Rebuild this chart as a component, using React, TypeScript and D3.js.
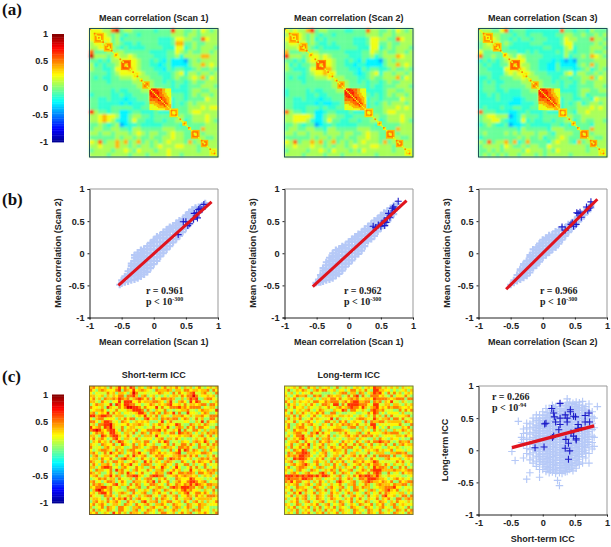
// App.tsx
import React, { useEffect, useRef } from "react";
import * as d3 from "d3";

// one character per cell: index into the levels below
const corrLevels = [-0.4, -0.27, -0.16, -0.05, 0.08, 0.22, 0.4, 0.55, 0.7, 0.85];
const iccLevels = [-0.4, -0.25, -0.12, 0.05, 0.17, 0.27, 0.37, 0.5, 0.65, 0.8];
const colorbarTicks = [-1, -0.5, 0, 0.5, 1];
const axisTicks = [-1, -0.5, 0, 0.5, 1];

// lower triangles of the mean correlation matrices (30 coarse rows)
const corrScan1 = [
  "5", "55", "555", "4554", "44555", "733343", "9444345", "33232445", "423233455", "4332235556",
  "33332345555", "323223344454", "3333233333444", "33333333333444", "333332322333445",
  "2333322322333355", "33223222122333556", "332222212122233566", "3322233333223334566",
  "84332331123322232222", "445655411344332333333", "4456542113533223323344",
  "33432340122322222333323", "344334433244333334443333", "4434434443454344334544333",
  "33333343443433433445443344", "547344646346343434544436344", "44544464434344345444554443443",
  "34444344543544434454444443444", "444434444344434444544344444444",
];
const corrScan2 = [
  "5", "45", "555", "4554", "44455", "633343", "8444345", "33232455", "423233445", "4322235556",
  "33332345565", "323223344454", "3333233333344", "33333333333444", "233332322333445",
  "2333322322333345", "33223222122333456", "332222212112233566", "3322233323223334566",
  "74332331123322232222", "445555411344332233333", "4455542113533223323344",
  "33432330122322222333323", "344334433244333334443333", "4434434443444344334544333",
  "33333343443433433445443344", "547344646346343434544436344", "44544454434344345444554443443",
  "34444344543544434354444443444", "444434444344434444444344444444",
];
const corrScan3 = [
  "4", "45", "445", "3454", "34455", "533333", "7334335", "23232345", "323223355", "3322225556",
  "33322245455", "223223334454", "2323223333444", "23332333333444", "233322322233445",
  "2232322222333355", "22223222112333556", "222222211122233566", "2322232233223334566",
  "73332221122322232222", "345544401243332333333", "3445532112523223323344",
  "23432230112322222332323", "333333333243333324443333", "3433334343444344324444333",
  "23333333343433423345433344", "437344636236333324544326344", "34444354334344335444444443433",
  "33434344443544434354444443444", "343434344344434344444344444444",
];

// the large central module of the correlation maps (same levels, lower triangle)
const centralModule = [
  "5", "85", "885", "8885", "88885", "788885", "7788885", "77777785", "777777885", "6666777775",
  "66666677785", "555666677785", "5555566666775", "55555566666665", "555555555556665",
];
const centralStart = 42;

// other diagonal modules on the 90 x 90 grid: start, size, peak
const corrModules = [
  [3, 7, 0.48], [10, 6, 0.48], [17, 3, 0.42], [22, 7, 0.6], [31, 3, 0.42], [35, 2, 0.42],
  [37, 5, 0.5], [56, 6, 0.45], [65, 3, 0.45], [69, 2, 0.42], [71, 6, 0.52],
  [78, 5, 0.52], [84, 5, 0.32],
];

// lower triangles of the ICC matrices (45 coarse rows)
const shortTermIcc = [
  "6", "75", "535", "6645", "57463", "664375", "3576645", "75546386", "456675354", "6735658475",
  "88678877466", "536774555364", "7753688745376", "46377889654557", "856748796447356",
  "7898657885374665", "35767548865366473", "664387578864575346", "5746753478536645735",
  "36575647368754356647", "654376557348654736575", "7445367546653347765346",
  "53467765374636775435677", "675347486576354768543765", "3674566457335748656734576",
  "56637557436786653475463577", "764573647756345764385746536", "4753667536475684536776345674",
  "66357887453675447563367548653", "537664573867453675447536674357",
  "7646335743674865357443576637854", "56743668576347788653478877345675",
  "345767466375446375367743657433765", "6745357763575337664576837457346755",
  "47676345784653747635477645375476576", "657788674563375467337546764378768887",
  "3689756745443677354653765376456578675", "56478857346764375467336574537436578457",
  "754437675364467536467745367446735576475", "4665347375768473675546374765357446673566",
  "36756475675337564378466736577456375367463", "574675346643765375467436675347654376457664",
  "6345737653775436675346754475367635764376453", "47365476437754367354765376345763546376745536",
  "657346538574637665376453477546357467346575347",
];
const longTermIcc = [
  "5", "47", "536", "6435", "46573", "753646", "4756354", "36475563", "745356467", "5373647546",
  "66473754357", "374657345746", "6547354675354", "47336574675436", "573467754364755",
  "6437566743657346", "35467745376847553", "463577846753645736", "7346578653473667434",
  "35667437546375676453", "457346758364573645375", "6374574673547635764576",
  "45376587346537645766473", "376477887453567345654736", "5767688775346573466374567",
  "64387887534657346737456346", "567346754367546374657354765", "3467567864573466375367345674",
  "57346776453676345746365473563", "645367543765346576375467345764",
  "5367534675447863573476534765474", "88878787887868875467346475878876",
  "787776887746635456374576347768887", "7685774563647536437865467346787665",
  "46567346753674536457436673547634676", "653476654376453675467353764766345667",
  "4573656745376473653746537745367635678", "63475836457365437564357635437635474765",
  "457364673547653674537436754637456378556", "6345746735476534765436573574365473657437",
  "34657346735467354637645736547634576536475", "653476354657346735467346537645736573467356",
  "4657346573647356473654376543765346754376453", "53647346537463746537645376453764573465376474",
  "465373657436573645736543756347653764537645376",
];

// scatter clouds, each row is one x followed by the y values read at that x
const cloudScan1Scan2 = [
  [-0.53, -0.49], [-0.5, -0.47, -0.42], [-0.45, -0.45, -0.4, -0.36], [-0.4, -0.44, -0.38, -0.33, -0.28],
  [-0.35, -0.42, -0.36, -0.31, -0.25, -0.2, -0.16], [-0.3, -0.41, -0.35, -0.3, -0.24, -0.18, -0.12, -0.07, -0.03],
  [-0.25, -0.39, -0.33, -0.28, -0.22, -0.16, -0.1, -0.04, 0.01], [-0.2, -0.36, -0.3, -0.25, -0.19, -0.13, -0.07, -0.01, 0.05],
  [-0.15, -0.33, -0.27, -0.22, -0.16, -0.1, -0.04, 0.02, 0.07], [-0.1, -0.29, -0.23, -0.18, -0.12, -0.06, 0, 0.06, 0.11],
  [-0.05, -0.23, -0.18, -0.12, -0.06, 0, 0.06, 0.12, 0.16], [0, -0.17, -0.12, -0.06, 0, 0.06, 0.12, 0.18, 0.21],
  [0.05, -0.12, -0.07, -0.01, 0.05, 0.11, 0.17, 0.23, 0.26], [0.1, -0.05, 0, 0.06, 0.12, 0.18, 0.24, 0.28],
  [0.15, 0, 0.05, 0.11, 0.17, 0.23, 0.29, 0.33], [0.2, 0.06, 0.11, 0.17, 0.23, 0.29, 0.33, 0.37],
  [0.25, 0.11, 0.16, 0.22, 0.28, 0.34, 0.38, 0.41], [0.3, 0.17, 0.22, 0.28, 0.34, 0.39, 0.43],
  [0.35, 0.22, 0.27, 0.33, 0.39, 0.43, 0.47], [0.4, 0.27, 0.32, 0.38, 0.44, 0.48, 0.51],
  [0.45, 0.33, 0.38, 0.44, 0.5, 0.53], [0.5, 0.39, 0.44, 0.5, 0.55, 0.59], [0.55, 0.46, 0.51, 0.57, 0.61, 0.64],
  [0.6, 0.53, 0.58, 0.63, 0.68], [0.65, 0.58, 0.63, 0.68, 0.71], [0.7, 0.63, 0.68, 0.72], [0.75, 0.7, 0.74], [0.8, 0.75, 0.78],
];
const cloudScan1Scan3 = [
  [-0.51, -0.46], [-0.47, -0.45, -0.41], [-0.44, -0.45, -0.4, -0.34], [-0.4, -0.44, -0.39, -0.33, -0.27, -0.23],
  [-0.35, -0.42, -0.37, -0.31, -0.25, -0.19, -0.14], [-0.3, -0.41, -0.35, -0.3, -0.24, -0.18, -0.12, -0.07],
  [-0.25, -0.39, -0.33, -0.28, -0.22, -0.16, -0.1, -0.04, 0], [-0.2, -0.35, -0.3, -0.24, -0.18, -0.12, -0.06, 0, 0.05],
  [-0.15, -0.32, -0.27, -0.21, -0.15, -0.09, -0.03, 0.03, 0.07], [-0.1, -0.27, -0.22, -0.16, -0.1, -0.04, 0.02, 0.08, 0.11],
  [-0.05, -0.21, -0.16, -0.1, -0.04, 0.02, 0.08, 0.13], [0, -0.16, -0.11, -0.05, 0.01, 0.07, 0.13, 0.18],
  [0.05, -0.11, -0.06, 0, 0.06, 0.12, 0.18, 0.22], [0.1, -0.05, 0, 0.06, 0.12, 0.18, 0.23, 0.26],
  [0.15, -0.01, 0.04, 0.1, 0.16, 0.22, 0.27, 0.3], [0.2, 0.04, 0.09, 0.15, 0.21, 0.27, 0.33],
  [0.25, 0.11, 0.16, 0.22, 0.28, 0.34, 0.38], [0.3, 0.19, 0.24, 0.3, 0.36, 0.42], [0.35, 0.22, 0.27, 0.33, 0.39, 0.46],
  [0.4, 0.27, 0.32, 0.38, 0.44, 0.51], [0.45, 0.34, 0.39, 0.45, 0.51, 0.54], [0.5, 0.39, 0.44, 0.5, 0.56, 0.59],
  [0.55, 0.43, 0.48, 0.54, 0.6, 0.63], [0.6, 0.49, 0.54, 0.6, 0.66], [0.65, 0.55, 0.6, 0.66, 0.7], [0.7, 0.61, 0.66, 0.74], [0.75, 0.71, 0.77],
];
const cloudScan2Scan3 = [
  [-0.5, -0.49], [-0.45, -0.46, -0.42], [-0.4, -0.43, -0.39, -0.34], [-0.35, -0.41, -0.37, -0.32, -0.27, -0.25],
  [-0.3, -0.38, -0.34, -0.29, -0.24, -0.19, -0.17], [-0.25, -0.35, -0.31, -0.26, -0.21, -0.16, -0.12],
  [-0.2, -0.3, -0.26, -0.21, -0.16, -0.11, -0.06, -0.03], [-0.15, -0.23, -0.19, -0.14, -0.09, -0.04, 0.01, 0.06],
  [-0.1, -0.19, -0.15, -0.1, -0.05, 0, 0.05, 0.09], [-0.05, -0.13, -0.09, -0.04, 0.01, 0.06, 0.11, 0.15],
  [0, -0.07, -0.03, 0.02, 0.07, 0.12, 0.17, 0.21], [0.05, -0.03, 0.01, 0.06, 0.11, 0.16, 0.21, 0.24],
  [0.1, 0.01, 0.05, 0.1, 0.15, 0.2, 0.25, 0.28], [0.15, 0.06, 0.1, 0.15, 0.2, 0.25, 0.29], [0.2, 0.09, 0.13, 0.18, 0.23, 0.28, 0.34],
  [0.25, 0.15, 0.19, 0.24, 0.29, 0.36], [0.3, 0.21, 0.25, 0.3, 0.35, 0.39], [0.35, 0.27, 0.31, 0.36, 0.4],
  [0.4, 0.33, 0.37, 0.42, 0.45], [0.45, 0.38, 0.42, 0.47], [0.5, 0.43, 0.47, 0.52], [0.55, 0.49, 0.53, 0.57],
  [0.6, 0.54, 0.58, 0.62], [0.65, 0.6, 0.65], [0.7, 0.65, 0.7], [0.75, 0.71, 0.75],
];
const cloudIcc = [
  [-0.48, -0.02], [-0.43, -0.16], [-0.38, 0.45], [-0.33, 0.12, 0.2], [-0.3, 0.1, 0.17, 0.26, 0.33, -0.12],
  [-0.25, -0.45, -0.05, 0.03, 0.11, 0.19, 0.27, 0.35, 0.42], [-0.2, -0.35, -0.15, -0.07, 0.01, 0.09, 0.17, 0.25, 0.33, 0.41],
  [-0.15, -0.2, -0.12, -0.04, 0.04, 0.12, 0.2, 0.28, 0.36, 0.44, 0.5], [-0.1, -0.25, -0.17, -0.09, -0.01, 0.07, 0.15, 0.23, 0.31, 0.39, 0.47, 0.55],
  [-0.05, -0.42, -0.3, -0.22, -0.14, -0.06, 0.02, 0.1, 0.18, 0.26, 0.34, 0.42, 0.5, 0.55], [0, -0.3, -0.22, -0.14, -0.06, 0.02, 0.1, 0.18, 0.26, 0.34, 0.42, 0.5, 0.6],
  [0.05, -0.33, -0.25, -0.17, -0.09, -0.01, 0.07, 0.15, 0.23, 0.31, 0.39, 0.47, 0.55, 0.65], [0.1, -0.35, -0.27, -0.19, -0.11, -0.03, 0.05, 0.13, 0.21, 0.29, 0.37, 0.45, 0.53, 0.65],
  [0.15, -0.34, -0.26, -0.18, -0.1, -0.02, 0.06, 0.14, 0.22, 0.3, 0.38, 0.46, 0.54, 0.62, 0.7], [0.2, -0.36, -0.28, -0.2, -0.12, -0.04, 0.04, 0.12, 0.2, 0.28, 0.36, 0.44, 0.52, 0.6, 0.68],
  [0.23, -0.47], [0.26, -0.55, -0.35, -0.27, -0.19, -0.11, -0.03, 0.05, 0.13, 0.21, 0.29, 0.37, 0.45, 0.53, 0.61, 0.72], [0.3, -0.36, -0.28, -0.2, -0.12, -0.04, 0.04, 0.12, 0.2, 0.28, 0.36, 0.44, 0.52, 0.6, 0.7],
  [0.35, -0.34, -0.26, -0.18, -0.1, -0.02, 0.06, 0.14, 0.22, 0.3, 0.38, 0.46, 0.54, 0.62, 0.7], [0.38, 0.8, -0.33, -0.22, -0.1, 0.02, 0.15, 0.28, 0.4, 0.52, 0.65, 0.74],
  [0.42, -0.3, -0.22, -0.14, -0.06, 0.02, 0.1, 0.18, 0.26, 0.34, 0.42, 0.5, 0.58, 0.66, 0.75], [0.47, -0.32, -0.24, -0.16, -0.08, 0, 0.08, 0.16, 0.24, 0.32, 0.4, 0.48, 0.56, 0.64, 0.73],
  [0.52, -0.28, -0.2, -0.12, -0.04, 0.04, 0.12, 0.2, 0.28, 0.36, 0.44, 0.52, 0.6, 0.68, 0.75], [0.57, -0.22, -0.14, -0.06, 0.02, 0.1, 0.18, 0.26, 0.34, 0.42, 0.5, 0.58, 0.66, 0.74],
  [0.62, -0.2, -0.1, -0.02, 0.06, 0.14, 0.22, 0.3, 0.38, 0.46, 0.54, 0.62, 0.7, 0.76], [0.67, -0.12, -0.04, 0.04, 0.12, 0.2, 0.28, 0.36, 0.44, 0.52, 0.6, 0.68],
  [0.72, -0.2, -0.05, 0.05, 0.13, 0.21, 0.29, 0.37, 0.45, 0.53, 0.61, 0.72], [0.77, 0.02, 0.12, 0.22, 0.32, 0.42, 0.52, 0.6], [0.8, 0.06, 0.2, 0.35, 0.5], [0.85, 0.68],
];
// the dense middle of the ICC cloud, where the crosses run together
const cloudIccCore = [
  [-0.12, 0.03, 0.11, 0.19, 0.27, 0.35], [-0.07, -0.1, -0.02, 0.06, 0.14, 0.22, 0.3, 0.38, 0.46],
  [-0.03, -0.18, -0.1, -0.02, 0.06, 0.14, 0.22, 0.3, 0.38, 0.46], [0.02, -0.26, -0.18, -0.1, -0.02, 0.06, 0.14, 0.22, 0.3, 0.38, 0.46, 0.54],
  [0.07, -0.29, -0.21, -0.13, -0.05, 0.03, 0.11, 0.19, 0.27, 0.35, 0.43, 0.51, 0.59], [0.12, -0.31, -0.23, -0.15, -0.07, 0.01, 0.09, 0.17, 0.25, 0.33, 0.41, 0.49, 0.57],
  [0.17, -0.3, -0.22, -0.14, -0.06, 0.02, 0.1, 0.18, 0.26, 0.34, 0.42, 0.5, 0.58, 0.66], [0.22, -0.32, -0.24, -0.16, -0.08, 0, 0.08, 0.16, 0.24, 0.32, 0.4, 0.48, 0.56, 0.64],
  [0.28, -0.31, -0.23, -0.15, -0.07, 0.01, 0.09, 0.17, 0.25, 0.33, 0.41, 0.49, 0.57, 0.65], [0.33, -0.32, -0.24, -0.16, -0.08, 0, 0.08, 0.16, 0.24, 0.32, 0.4, 0.48, 0.56, 0.64],
  [0.37, -0.27, -0.19, -0.11, -0.03, 0.05, 0.13, 0.21, 0.29, 0.37, 0.45, 0.53, 0.61, 0.69], [0.4, -0.26, -0.18, -0.1, -0.02, 0.06, 0.14, 0.22, 0.3, 0.38, 0.46, 0.54, 0.62, 0.7],
  [0.45, -0.28, -0.2, -0.12, -0.04, 0.04, 0.12, 0.2, 0.28, 0.36, 0.44, 0.52, 0.6, 0.68], [0.5, -0.24, -0.16, -0.08, 0, 0.08, 0.16, 0.24, 0.32, 0.4, 0.48, 0.56, 0.64, 0.71],
  [0.55, -0.18, -0.1, -0.02, 0.06, 0.14, 0.22, 0.3, 0.38, 0.46, 0.54, 0.62, 0.7], [0.6, -0.06, 0.02, 0.1, 0.18, 0.26, 0.34, 0.42, 0.5, 0.58, 0.66],
  [0.65, 0, 0.08, 0.16, 0.24, 0.32, 0.4, 0.48, 0.56, 0.64], [0.7, 0.09, 0.17, 0.25, 0.33, 0.41, 0.49, 0.57],
];

// highlighted points (dark blue crosses)
const blueScan1Scan2 = [
  [0.38, 0.29], [0.46, 0.49], [0.5, 0.49], [0.53, 0.43], [0.56, 0.46], [0.62, 0.53], [0.63, 0.62], [0.67, 0.63],
  [0.68, 0.55], [0.7, 0.68], [0.72, 0.7], [0.75, 0.68], [0.78, 0.76], [0.66, 0.58],
];
const blueScan1Scan3 = [
  [0.38, 0.42], [0.42, 0.4], [0.46, 0.44], [0.5, 0.42], [0.52, 0.47], [0.55, 0.5], [0.58, 0.48], [0.6, 0.55],
  [0.62, 0.62], [0.66, 0.62], [0.68, 0.7], [0.7, 0.72], [0.72, 0.68], [0.77, 0.81], [0.56, 0.43], [0.64, 0.56],
];
const blueScan2Scan3 = [
  [0.3, 0.41], [0.35, 0.36], [0.44, 0.45], [0.46, 0.47], [0.48, 0.42], [0.52, 0.45], [0.55, 0.62], [0.53, 0.63],
  [0.58, 0.64], [0.6, 0.56], [0.68, 0.72], [0.7, 0.67], [0.72, 0.7], [0.75, 0.8], [0.74, 0.72],
];
const blueIcc = [
  [0.14, 0.65], [0.17, 0.58], [0.18, 0.52], [0.05, 0.42], [0.03, 0.41], [0.2, 0.44], [0.27, 0.73], [0.27, 0.5],
  [0.35, 0.55], [0.38, 0.5], [0.38, 0.44], [0.43, 0.63], [0.43, 0.6], [0.27, 0.4], [0.25, 0.32], [0.48, 0.53],
  [0.51, 0.52], [0.55, 0.4], [0.66, 0.54], [0.72, 0.58], [0.66, 0.44], [0.73, 0.44], [0.6, 0.35], [0.55, 0.34],
  [0.44, 0.27], [0.48, 0.22], [0.52, 0.18], [0.52, 0.16], [0.17, 0.22], [0.15, 0.2], [-0.12, 0.04], [0.02, 0.05],
  [0.36, 0.17], [0.4, 0.11], [0.35, 0.03], [0.42, -0.01], [0.4, -0.14],
];

// fit lines: start and end of each red line
const fitScan1Scan2 = [[-0.55, -0.5], [0.9, 0.8]];
const fitScan1Scan3 = [[-0.56, -0.52], [0.9, 0.82]];
const fitScan2Scan3 = [[-0.57, -0.56], [0.85, 0.84]];
const fitIcc = [[-0.48, 0.04], [0.8, 0.38]];

const sans = "'Liberation Sans', Arial, sans-serif";
const serif = "'Liberation Serif', 'Times New Roman', serif";

const jet = d3
  .scaleLinear<string>()
  .domain([-1, -0.75, -0.25, 0.25, 0.75, 1])
  .range(["#00008f", "#0000ff", "#00ffff", "#ffff00", "#ff0000", "#800000"])
  .clamp(true);

type Svg = d3.Selection<SVGSVGElement, unknown, null, undefined>;

function cellValue(rows: string[], levels: number[], i: number, j: number): number {
  const hi = Math.max(i, j);
  const lo = Math.min(i, j);
  const ch = rows[hi]?.charAt(lo);
  return levels[ch ? +ch : 5];
}

function drawHeatmap(
  svg: Svg,
  rows: string[],
  levels: number[],
  x0: number,
  y0: number,
  size: number,
  frame: string,
  blur: string,
  withModules = false
) {
  const g = svg.append("g").attr("filter", blur);
  const idx = d3.range(rows.length);
  const bx = d3.scaleBand<number>().domain(idx).range([x0, x0 + size]);
  const by = d3.scaleBand<number>().domain(idx).range([y0, y0 + size]);

  idx.forEach((i) => {
    idx.forEach((j) => {
      g.append("rect")
        .attr("x", bx(j)!)
        .attr("y", by(i)!)
        .attr("width", bx.bandwidth() + 0.3)
        .attr("height", by.bandwidth() + 0.3)
        .attr("fill", jet(cellValue(rows, levels, i, j)));
    });
  });

  // modules along the diagonal, on the finer 90 x 90 grid
  if (withModules) {
    const m = svg.append("g").attr("filter", "url(#softModule)");
    const fine = d3.scaleLinear().domain([0, 90]);
    const fx = fine.copy().range([x0, x0 + size]);
    const fy = fine.copy().range([y0, y0 + size]);
    const cell = (a: number, b: number, w: number, h: number, v: number) =>
      m.append("rect")
        .attr("x", fx(a))
        .attr("y", fy(b))
        .attr("width", fx(a + w) - fx(a) + 0.2)
        .attr("height", fy(b + h) - fy(b) + 0.2)
        .attr("fill", jet(v));
    corrModules.forEach(([s, n, v]) => {
      cell(s, s, n, n, v - 0.12);
      if (n >= 5) cell(s + 1, s + 1, n - 2, n - 2, v);
      if (n >= 5) cell(s + 2, s + 2, n - 4, n - 4, v - 0.2);
    });
    centralModule.forEach((_, i) => {
      centralModule.forEach((_, j) => {
        cell(centralStart + j, centralStart + i, 1, 1, cellValue(centralModule, corrLevels, i, j));
      });
    });
    d3.range(0, 90)
      .filter((k) => k < centralStart || k >= centralStart + centralModule.length)
      .forEach((k) => cell(k, k, 1, 1, k % 3 === 0 ? 0.5 : 0.2));
  }

  svg.append("rect")
    .attr("x", x0)
    .attr("y", y0)
    .attr("width", size)
    .attr("height", size)
    .attr("fill", "none")
    .attr("stroke", frame)
    .attr("stroke-width", 1);
}

function drawColorbar(svg: Svg, x0: number, y0: number, height: number) {
  const y = d3.scaleLinear().domain([-1, 1]).range([y0 + height, y0]);
  const steps = d3.range(-1, 1, 2 / 64);
  svg.append("g")
    .selectAll("rect")
    .data(steps)
    .join("rect")
    .attr("x", x0)
    .attr("y", (d) => y(d + 2 / 64))
    .attr("width", 12)
    .attr("height", (d) => y(d) - y(d + 2 / 64) + 0.4)
    .attr("fill", (d) => jet(d + 1 / 64));
  const axis = d3.axisLeft(y).tickValues(colorbarTicks).tickSize(0).tickPadding(4).tickFormat((d) => String(d));
  const a = svg.append("g").attr("transform", `translate(${x0},0)`).call(axis);
  a.select(".domain").remove();
  a.selectAll("text").attr("font-family", sans).attr("font-size", 9.2).attr("font-weight", "bold").attr("fill", "#222");
}

function plusPath(size: number) {
  const h = size / 2;
  return `M${-h},0H${h}M0,${-h}V${h}`;
}

function drawScatter(
  svg: Svg,
  x0: number,
  y0: number,
  size: number,
  cloud: number[][],
  blue: number[][],
  fit: number[][],
  lineWidth: number,
  plus: number,
  plusWidth: number
) {
  const x = d3.scaleLinear().domain([-1, 1]).range([x0, x0 + size]);
  const y = d3.scaleLinear().domain([-1, 1]).range([y0 + size, y0]);

  // top and right borders are lighter than the axes
  svg.append("path")
    .attr("d", `M${x0},${y0}H${x0 + size}V${y0 + size}`)
    .attr("fill", "none")
    .attr("stroke", "#999")
    .attr("stroke-width", 1);

  const points = cloud.flatMap(([px, ...ys]) => ys.map((py) => [px, py]));
  svg.append("g")
    .selectAll("path")
    .data(points)
    .join("path")
    .attr("d", plusPath(plus))
    .attr("transform", (d) => `translate(${x(d[0])},${y(d[1])})`)
    .attr("fill", "none")
    .attr("stroke", "#b6c9f7")
    .attr("stroke-width", plusWidth);

  svg.append("g")
    .selectAll("path")
    .data(blue)
    .join("path")
    .attr("d", plusPath(7))
    .attr("transform", (d) => `translate(${x(d[0])},${y(d[1])})`)
    .attr("fill", "none")
    .attr("stroke", "#1c1cc8")
    .attr("stroke-width", 1.1);

  const line = d3.line<number[]>().x((d) => x(d[0])).y((d) => y(d[1]));
  svg.append("path")
    .attr("d", line(fit)!)
    .attr("fill", "none")
    .attr("stroke", "#e0141e")
    .attr("stroke-width", lineWidth);

  const xAxis = d3.axisBottom(x).tickValues(axisTicks).tickSize(2).tickPadding(3).tickFormat((d) => String(d));
  const yAxis = d3.axisLeft(y).tickValues(axisTicks).tickSize(2).tickPadding(3).tickFormat((d) => String(d));
  [
    svg.append("g").attr("transform", `translate(0,${y0 + size})`).call(xAxis),
    svg.append("g").attr("transform", `translate(${x0},0)`).call(yAxis),
  ].forEach((a) => {
    a.selectAll("text").attr("font-family", sans).attr("font-size", 9.2).attr("font-weight", "bold").attr("fill", "#222");
    a.selectAll("path,line").attr("stroke", "#222");
  });
}

function label(svg: Svg, text: string, x: number, y: number, anchor = "middle", rotate = false) {
  svg.append("text")
    .attr("transform", rotate ? `translate(${x},${y}) rotate(-90)` : `translate(${x},${y})`)
    .attr("text-anchor", anchor)
    .attr("font-family", sans)
    .attr("font-size", 9)
    .attr("font-weight", "bold")
    .attr("fill", "#222")
    .text(text);
}

function stats(svg: Svg, r: string, exp: string, x: number, y: number) {
  const common = (t: d3.Selection<SVGTextElement, unknown, null, undefined>) =>
    t.attr("font-family", serif).attr("font-weight", "bold").attr("fill", "#222");
  common(svg.append("text")).attr("x", x).attr("y", y).attr("font-size", 10).text(`r = ${r}`);
  const p = common(svg.append("text")).attr("x", x).attr("y", y + 10.5).attr("font-size", 10);
  p.append("tspan").text("p < 10");
  p.append("tspan").attr("font-size", 6).attr("dy", -3.5).text(exp);
}

function panelLetter(svg: Svg, text: string, y: number) {
  svg.append("text")
    .attr("x", 2)
    .attr("y", y)
    .attr("font-family", serif)
    .attr("font-size", 17)
    .attr("font-weight", "bold")
    .attr("fill", "#111")
    .text(text);
}

const App: React.FC = () => {
  const svgRef = useRef<SVGSVGElement | null>(null);

  useEffect(() => {
    const svg = d3.select(svgRef.current!) as Svg;
    svg.selectAll("*").remove();

    const defs = svg.append("defs");
    const addBlur = (id: string, sd: number) =>
      defs.append("filter")
        .attr("id", id)
        .attr("x", "-2%")
        .attr("y", "-2%")
        .attr("width", "104%")
        .attr("height", "104%")
        .append("feGaussianBlur")
        .attr("stdDeviation", sd);
    addBlur("softCorr", 0.9);
    addBlur("softModule", 0.55);
    addBlur("softIcc", 0.7);

    const columns = [89.5, 284.5, 478.5];
    const size = 128.5;

    // row (a)
    panelLetter(svg, "(a)", 15);
    drawColorbar(svg, 52, 34, 108);
    [corrScan1, corrScan2, corrScan3].forEach((rows, k) => {
      drawHeatmap(svg, rows, corrLevels, columns[k], 28.5, size, "#1f5058", "url(#softCorr)", true);
      label(svg, `Mean correlation (Scan ${k + 1})`, columns[k] + size / 2, 21);
    });

    // row (b)
    panelLetter(svg, "(b)", 205);
    const rowB = [
      { cloud: cloudScan1Scan2, blue: blueScan1Scan2, fit: fitScan1Scan2, xl: "Mean correlation (Scan 1)", yl: "Mean correlation (Scan 2)", r: "0.961", sx: 146 },
      { cloud: cloudScan1Scan3, blue: blueScan1Scan3, fit: fitScan1Scan3, xl: "Mean correlation (Scan 1)", yl: "Mean correlation (Scan 3)", r: "0.962", sx: 344 },
      { cloud: cloudScan2Scan3, blue: blueScan2Scan3, fit: fitScan2Scan3, xl: "Mean correlation (Scan 2)", yl: "Mean correlation (Scan 3)", r: "0.966", sx: 540 },
    ];
    rowB.forEach((p, k) => {
      drawScatter(svg, columns[k], 189, size, p.cloud, p.blue, p.fit, 3, 7, 2.2);
      label(svg, p.xl, columns[k] + size / 2, 345);
      label(svg, p.yl, columns[k] - 29, 253, "middle", true);
      stats(svg, p.r, "-300", p.sx, 294);
    });

    // row (c)
    panelLetter(svg, "(c)", 382);
    drawColorbar(svg, 52, 394.5, 108.5);
    drawHeatmap(svg, shortTermIcc, iccLevels, columns[0], 386, size, "#6b5a2c", "url(#softIcc)");
    label(svg, "Short-term ICC", columns[0] + size / 2, 378);
    drawHeatmap(svg, longTermIcc, iccLevels, columns[1], 386, size, "#7d7a3c", "url(#softIcc)");
    label(svg, "Long-term ICC", columns[1] + size / 2, 378);
    drawScatter(svg, columns[2], 386, size, [...cloudIcc, ...cloudIccCore], blueIcc, fitIcc, 3.4, 7.5, 1.15);
    label(svg, "Short-term ICC", columns[2] + size / 2, 542);
    label(svg, "Long-term ICC", columns[2] - 31, 450, "middle", true);
    stats(svg, "0.266", "-94", 492, 400);
  }, []);

  return (
    <div>
      <svg ref={svgRef} width={611} height={547} style={{ position: "absolute", left: 0, top: 0, background: "#fff" }}></svg>
    </div>
  );
};

export default App;
